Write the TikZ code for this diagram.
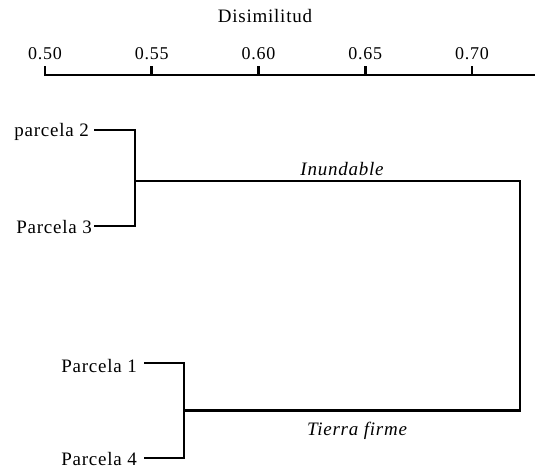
\documentclass[tikz,border=0pt]{standalone}
\usepackage{fontspec}
\setmainfont{Liberation Serif}[LetterSpace=4]
\begin{document}
\begin{tikzpicture}[x=1pt,y=-1pt,
  lbl/.style={inner sep=0pt,font=\fontsize{19}{21}\selectfont},
  tlbl/.style={inner sep=0pt,font=\fontsize{18}{20}\selectfont},
  grp/.style={inner sep=0pt,font=\fontsize{19}{21}\selectfont\itshape},
  dline/.style={line width=2.6pt,line join=miter,line cap=rect},
  axisline/.style={line width=2.6pt,line cap=rect}]
\useasboundingbox (0,0) rectangle (535,468);
% axis
\node[lbl,anchor=base] (title) at (265,23) {Disimilitud};
\coordinate (ax0) at (45,75);
\coordinate (ax1) at (536,75);
\draw[axisline] (ax0) -- (ax1);
\foreach \i/\x/\t in {0/45/0.50,1/151.75/0.55,2/258.5/0.60,3/365.25/0.65,4/472/0.70}{
  \coordinate (tk\i) at (\x,75);
  \coordinate (tt\i) at (\x,66);
  \draw[line width=2.6pt] (tk\i) -- (tt\i);
  \node[tlbl,anchor=base] (tl\i) at (\x,60) {\t};
}
% leaf labels
\node[lbl,anchor=base east] (p2) at (89,136) {parcela 2};
\node[lbl,anchor=base east] (p3) at (92,233) {Parcela 3};
\node[lbl,anchor=base east] (p1) at (137,372) {Parcela 1};
\node[lbl,anchor=base east] (p4) at (137,465) {Parcela 4};
% leaf line ends
\coordinate (a2) at (95,130);
\coordinate (a3) at (95,226);
\coordinate (a1) at (145,363);
\coordinate (a4) at (145,458);
% joints
\coordinate (j23) at (135,181);
\coordinate (j14) at (184,410.5);
\coordinate (r1) at (520,181);
\coordinate (r2) at (520,410.5);
\draw[dline] (a2) -| (j23) |- (a3);
\draw[dline] (a1) -| (j14) |- (a4);
\draw[dline] (j23) -- (r1) -- (r2) -- (j14);
% group labels
\node[grp,anchor=base] (inund) at (342,175) {Inundable};
\node[grp,anchor=base] (tierra) at (357,435) {Tierra firme};
\end{tikzpicture}
\end{document}
